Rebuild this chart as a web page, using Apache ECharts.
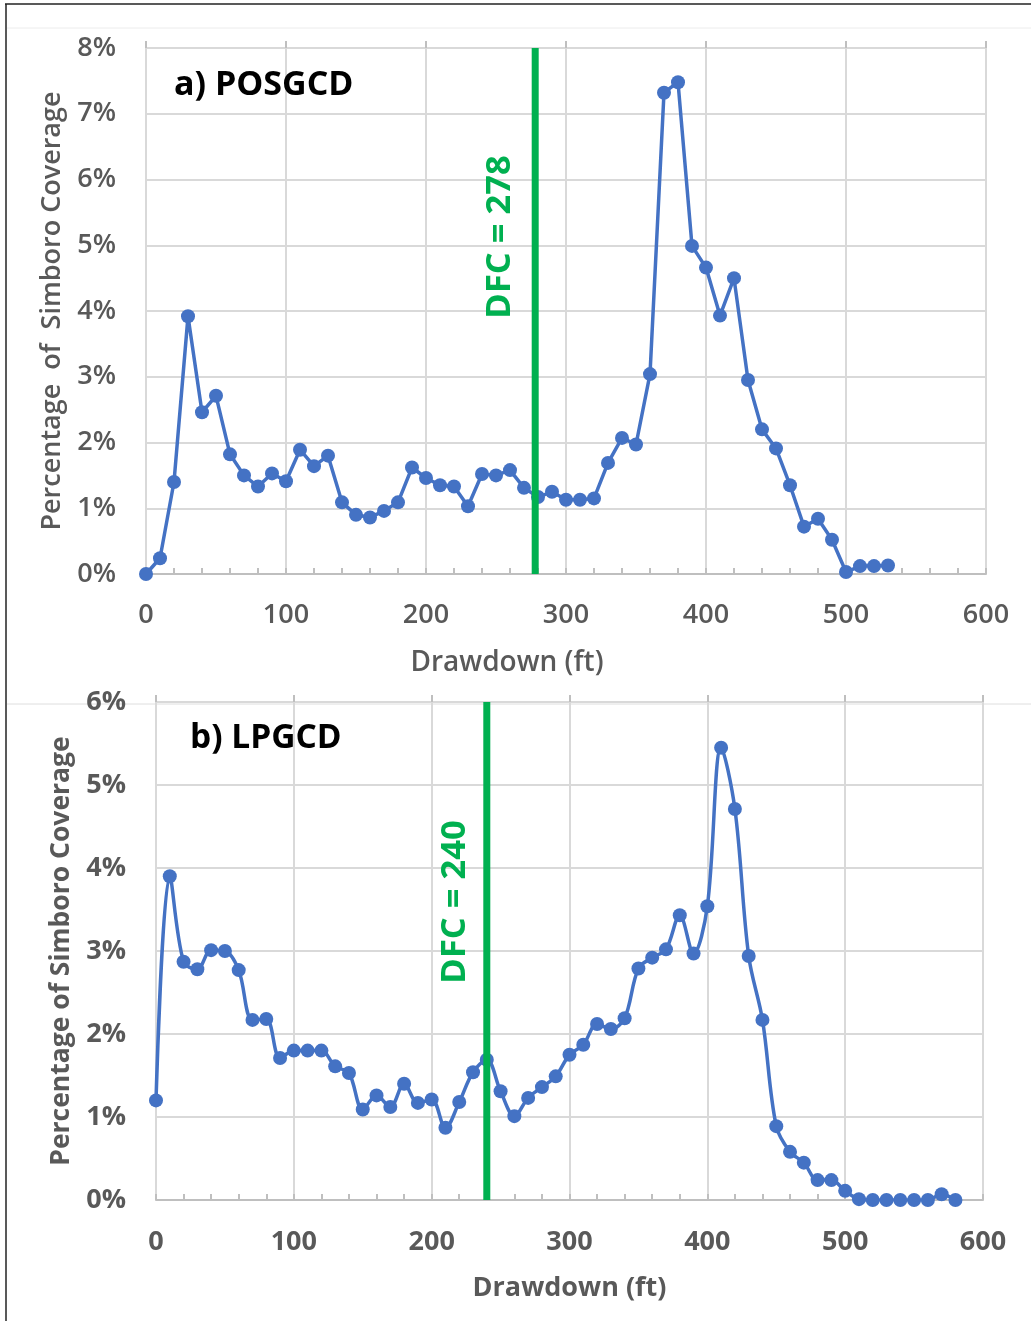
<!DOCTYPE html>
<html>
<head>
<meta charset="utf-8">
<script src="https://cdn.jsdelivr.net/npm/echarts@6/dist/echarts.min.js"></script>
<style>
html,body{margin:0;padding:0;background:#fff;}
#chart{width:1031px;height:1321px;}
</style>
</head>
<body>
<div id="chart"></div>
<script>
// ---- Data ----
const titleA = 'a) POSGCD';
const titleB = 'b) LPGCD';
const xTitle = 'Drawdown (ft)';
const yTitleA = 'Percentage  of  Simboro Coverage';
const yTitleB = 'Percentage of Simboro Coverage';

const drawdownA = [0,10,20,30,40,50,60,70,80,90,100,110,120,130,140,150,160,170,180,190,
  200,210,220,230,240,250,260,270,280,290,300,310,320,330,340,350,360,370,380,390,
  400,410,420,430,440,450,460,470,480,490,500,510,520,530];
const coverageA = [0.00,0.24,1.40,3.92,2.46,2.71,1.82,1.50,1.33,1.53,1.41,1.89,1.64,1.80,1.09,0.90,0.86,0.96,1.09,1.62,
  1.46,1.35,1.33,1.03,1.52,1.50,1.58,1.31,1.17,1.25,1.13,1.13,1.15,1.69,2.07,1.97,3.04,7.32,7.48,4.99,
  4.66,3.93,4.50,2.95,2.20,1.91,1.35,0.72,0.84,0.52,0.03,0.12,0.12,0.13];

const drawdownB = [0,10,20,30,40,50,60,70,80,90,100,110,120,130,140,150,160,170,180,190,
  200,210,220,230,240,250,260,270,280,290,300,310,320,330,340,350,360,370,380,390,
  400,410,420,430,440,450,460,470,480,490,500,510,520,530,540,550,560,570,580];
const coverageB = [1.20,3.90,2.87,2.78,3.01,3.00,2.77,2.17,2.18,1.71,1.80,1.80,1.80,1.61,1.53,1.09,1.26,1.12,1.40,1.17,
  1.21,0.87,1.18,1.54,1.69,1.31,1.01,1.23,1.36,1.49,1.75,1.87,2.12,2.06,2.19,2.79,2.92,3.02,3.43,2.97,
  3.54,5.45,4.71,2.94,2.17,0.89,0.58,0.45,0.24,0.24,0.11,0.01,0.00,0.00,0.00,0.00,0.00,0.07,0.00];

const dfcA = 278;
const dfcB = 240;
const dfcLabelA = 'DFC = 278';
const dfcLabelB = 'DFC = 240';

const xTicks = [0,100,200,300,400,500,600];
const yTicksA = [0,1,2,3,4,5,6,7,8];
const yTicksB = [0,1,2,3,4,5,6];

// ---- Styles ----
const BLUE = '#4472C4';
const GREEN = '#00B050';
const GRID = '#d9d9d9';
const AXIS = '#bfbfbf';
const LABEL = '#595959';
const FONT = '"Open Sans", "Noto Sans", sans-serif';

function xAxisMain(gi, weight, name, gap, nameSize, labMargin, namePad) {
  return {
    type: 'value', gridIndex: gi,
    min: xTicks[0], max: xTicks[xTicks.length-1], interval: 100,
    axisLine: {show: true, lineStyle: {color: AXIS, width: 2}},
    axisTick: {show: true, inside: true, length: 6, lineStyle: {color: AXIS, width: 2}},
    minorTick: {show: true, splitNumber: 5, length: 6, lineStyle: {color: AXIS, width: 2}},
    splitLine: {show: true, lineStyle: {color: GRID, width: 2}},
    axisLabel: {margin: labMargin, color: LABEL, fontSize: 27, fontWeight: weight, fontFamily: FONT},
    name: name, nameLocation: 'middle', nameGap: gap,
    nameTextStyle: {color: LABEL, fontSize: nameSize, fontWeight: weight, fontFamily: FONT,
      align: 'center', verticalAlign: 'middle', padding: namePad}
  };
}
function xAxisTicks(gi) {
  return {
    type: 'value', gridIndex: gi,
    min: xTicks[0], max: xTicks[xTicks.length-1], interval: 100,
    axisLine: {show: false},
    axisTick: {show: true, inside: false, length: 7, lineStyle: {color: AXIS, width: 2}},
    splitLine: {show: false},
    axisLabel: {show: false}
  };
}
function yAxis(gi, ticks, weight, name, nameSize) {
  return {
    type: 'value', gridIndex: gi,
    min: ticks[0], max: ticks[ticks.length-1], interval: 1,
    axisLine: {show: false}, axisTick: {show: false},
    splitLine: {show: true, lineStyle: {color: GRID, width: 2}},
    axisLabel: {margin: 30, color: LABEL, fontSize: 27, fontWeight: weight, fontFamily: FONT, formatter: '{value}%'},
    name: name, nameLocation: 'middle', nameGap: 94, nameRotate: 90,
    nameTextStyle: {color: LABEL, fontSize: nameSize, fontWeight: weight, fontFamily: FONT, align: 'center', verticalAlign: 'middle'}
  };
}

const chart = echarts.init(document.getElementById('chart'), null, {renderer: 'canvas'});
chart.setOption({
  backgroundColor: '#ffffff',
  animation: false,
  grid: [
    {left: 146, top: 48, width: 840, height: 526, outerBoundsMode: 'none'},
    {left: 156, top: 702, width: 827, height: 498, outerBoundsMode: 'none'}
  ],
  xAxis: [
    xAxisMain(0, 600, xTitle, 89, 28, 28, [0, 118, 0, 0]),
    xAxisMain(1, 700, xTitle, 88, 27, 29, 0),
    xAxisTicks(0),
    xAxisTicks(1)
  ],
  yAxis: [
    yAxis(0, yTicksA, 600, yTitleA, 27),
    yAxis(1, yTicksB, 700, yTitleB, 26.5)
  ],
  series: [
    {
      type: 'line', xAxisIndex: 0, yAxisIndex: 0,
      data: drawdownA.map((d, i) => [d, coverageA[i]]),
      symbol: 'circle', symbolSize: 14,
      itemStyle: {color: BLUE},
      lineStyle: {color: BLUE, width: 3.5},
      z: 3
    },
    {
      type: 'line', xAxisIndex: 0, yAxisIndex: 0,
      data: [[dfcA, yTicksA[0]], [dfcA, yTicksA[yTicksA.length-1]]],
      symbol: 'none', lineStyle: {color: GREEN, width: 7}, z: 5
    },
    {
      type: 'line', xAxisIndex: 1, yAxisIndex: 1,
      data: drawdownB.map((d, i) => [d, coverageB[i]]),
      symbol: 'circle', symbolSize: 14, smooth: 0.35,
      itemStyle: {color: BLUE},
      lineStyle: {color: BLUE, width: 3.5},
      z: 3
    },
    {
      type: 'line', xAxisIndex: 1, yAxisIndex: 1,
      data: [[dfcB, yTicksB[0]], [dfcB, yTicksB[yTicksB.length-1]]],
      symbol: 'none', lineStyle: {color: GREEN, width: 7}, z: 5
    }
  ],
  graphic: [
    {type: 'line', shape: {x1: 5, y1: 4, x2: 1031, y2: 4}, style: {stroke: '#222', lineWidth: 1.5}, silent: true},
    {type: 'line', shape: {x1: 6, y1: 4, x2: 6, y2: 1321}, style: {stroke: '#222', lineWidth: 1.5}, silent: true},
    {type: 'line', shape: {x1: 7, y1: 28, x2: 1031, y2: 28}, style: {stroke: '#ececec', lineWidth: 1}, silent: true},
    {type: 'line', shape: {x1: 7, y1: 704, x2: 1031, y2: 704}, style: {stroke: '#dedede', lineWidth: 1}, silent: true},
    {type: 'text', x: 174, y: 85, z: 10,
      style: {text: titleA, fill: '#000', font: 'bold 34px ' + FONT, textVerticalAlign: 'middle'}},
    {type: 'text', x: 190, y: 738, z: 10,
      style: {text: titleB, fill: '#000', font: 'bold 33.5px ' + FONT, textVerticalAlign: 'middle'}},
    {type: 'text', x: 500, y: 237, rotation: Math.PI / 2, z: 10,
      style: {text: dfcLabelA, fill: GREEN, font: 'bold 34.5px ' + FONT, textAlign: 'center', textVerticalAlign: 'middle'}},
    {type: 'text', x: 455, y: 902, rotation: Math.PI / 2, z: 10,
      style: {text: dfcLabelB, fill: GREEN, font: 'bold 34.5px ' + FONT, textAlign: 'center', textVerticalAlign: 'middle'}}
  ]
});
</script>
</body>
</html>
